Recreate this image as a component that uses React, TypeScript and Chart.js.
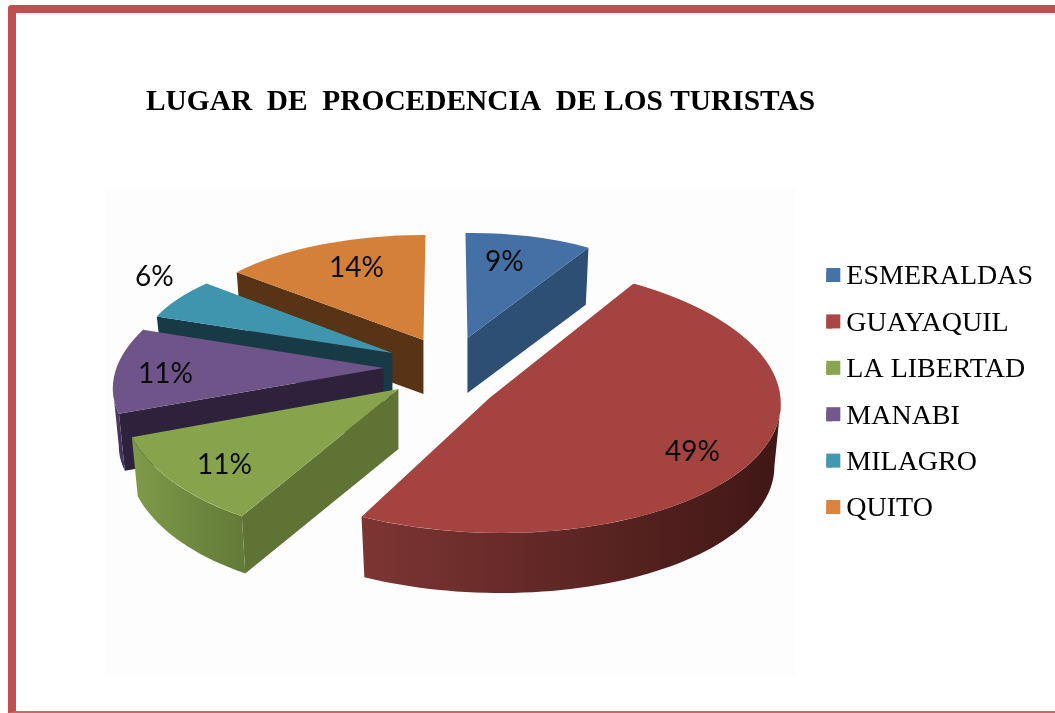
import React, { useEffect, useRef } from "react";
import { Chart, registerables } from "chart.js";

Chart.register(...registerables);

const TITLE = "LUGAR  DE  PROCEDENCIA  DE LOS TURISTAS";
const categories = ["ESMERALDAS", "GUAYAQUIL", "LA LIBERTAD", "MANABI", "MILAGRO", "QUITO"];
const percentages = [9, 49, 11, 11, 6, 14];

const faceColors = ["#4570a6", "#a54340", "#87a44d", "#6f548a", "#3f95ad", "#d58039"];
const legendColors = ["#4572a7", "#aa4643", "#89a54e", "#71588f", "#4198af", "#db843d"];
const cutColors = ["#2d4f74", "#3f1715", "#5f7434", "#2e213c", "#183a47", "#583316"];
const wallColors = [
  ["#2d4f74", "#2d4f74"],
  ["#7d3533", "#3f1715"],
  ["#7f9a49", "#637b38"],
  ["#5f4a7c", "#45335e"],
  ["#183a47", "#183a47"],
  ["#583316", "#583316"],
];

// 3-D view of each exploded wedge, in design units for a pie of radius 255.25:
// wedge tip relative to the pie centre, projected x/y axes of the wedge, extrusion depth.
const DESIGN_RADIUS = 255.25;
const TAPER = 0.978;
const sliceViews = [
  { tip: [-9.5, -108.25], xAxis: [229, -3], yAxis: [2, 105], depth: 55 },
  { tip: [12.5, -48.25], xAxis: [291, -1], yAxis: [14, 135], depth: 63 },
  { tip: [-78.5, -57.25], xAxis: [276, 7], yAxis: [-27, 149], depth: 60 },
  { tip: [-93.5, -78.25], xAxis: [267, 0], yAxis: [-44, 124], depth: 58 },
  { tip: [-84.5, -93.25], xAxis: [252, 5], yAxis: [-13, 103], depth: 45 },
  { tip: [-53.5, -106.25], xAxis: [244, 1], yAxis: [-2, 105], depth: 54 },
];
const labelOffsets = [[37, -76], [203, 54], [-174, 76], [-218, 6], [-238, -76], [-67, -72]];
const drawOrder = [0, 5, 4, 3, 2, 1];

const pie3d = {
  id: "pie3d",
  beforeDatasetDraw(chart: any) {
    const { ctx } = chart;
    const arcs = chart.getDatasetMeta(0).data;
    for (const i of drawOrder) {
      const arc = arcs[i];
      const { x: cx, y: cy, outerRadius: R, startAngle, endAngle } = arc.getProps(
        ["x", "y", "outerRadius", "startAngle", "endAngle"],
        true
      );
      const k = R / DESIGN_RADIUS;
      const v = sliceViews[i];
      const tx = cx + v.tip[0] * k;
      const ty = cy + v.tip[1] * k;
      const ax = v.xAxis[0] * k, ay = v.xAxis[1] * k;
      const bx = v.yAxis[0] * k, by = v.yAxis[1] * k;
      const d = v.depth * k;
      const pt = (t: number): [number, number] => [
        tx + ax * Math.cos(t) + bx * Math.sin(t),
        ty + ay * Math.cos(t) + by * Math.sin(t),
      ];
      const low = (p: [number, number]): [number, number] => [
        tx + (p[0] - tx) * TAPER,
        ty + (p[1] - ty) * TAPER + d,
      ];
      const cut = (t: number) => {
        const p = pt(t);
        const q = low(p);
        ctx.beginPath();
        ctx.moveTo(tx, ty);
        ctx.lineTo(p[0], p[1]);
        ctx.lineTo(q[0], q[1]);
        ctx.lineTo(tx, ty + d);
        ctx.closePath();
        ctx.fillStyle = cutColors[i];
        ctx.fill();
      };
      if (Math.cos(startAngle) < -1e-6) cut(startAngle);
      if (Math.cos(endAngle) > 1e-6) cut(endAngle);

      const t0 = Math.atan2(bx, ax);
      const from = Math.max(startAngle, t0);
      const to = Math.min(endAngle, t0 + Math.PI);
      if (to > from) {
        const steps = 60;
        const top: [number, number][] = [];
        for (let s = 0; s <= steps; s++) top.push(pt(from + ((to - from) * s) / steps));
        const xs = top.map((p) => p[0]);
        const g = ctx.createLinearGradient(Math.min(...xs), 0, Math.max(...xs), 0);
        g.addColorStop(0, wallColors[i][0]);
        g.addColorStop(1, wallColors[i][1]);
        ctx.beginPath();
        top.forEach((p, n) => (n ? ctx.lineTo(p[0], p[1]) : ctx.moveTo(p[0], p[1])));
        for (let n = steps; n >= 0; n--) {
          const q = low(top[n]);
          ctx.lineTo(q[0], q[1]);
        }
        ctx.closePath();
        ctx.fillStyle = g;
        ctx.fill();
      }

      ctx.save();
      ctx.transform(
        ax / R, ay / R, bx / R, by / R,
        tx - (ax * cx + bx * cy) / R,
        ty - (ay * cx + by * cy) / R
      );
      arc.draw(ctx);
      ctx.restore();
    }
    return false;
  },
  afterDatasetsDraw(chart: any) {
    const { ctx } = chart;
    const arcs = chart.getDatasetMeta(0).data;
    ctx.save();
    ctx.font = '28px Lato';
    ctx.fillStyle = "#0a0a0a";
    ctx.textAlign = "center";
    ctx.textBaseline = "middle";
    arcs.forEach((arc: any, i: number) => {
      const { x, y, outerRadius: R } = arc.getProps(["x", "y", "outerRadius"], true);
      const k = R / DESIGN_RADIUS;
      const v = sliceViews[i];
      ctx.fillText(
        percentages[i] + "%",
        x + (v.tip[0] + labelOffsets[i][0]) * k,
        y + (v.tip[1] + labelOffsets[i][1]) * k
      );
    });
    ctx.restore();
  },
  afterDraw(chart: any) {
    // Legend swatches are wider than the gap Chart.js leaves before the text.
    const { ctx, legend } = chart;
    legend.legendHitBoxes.forEach((hit: any, i: number) => {
      ctx.fillStyle = legendColors[i];
      ctx.fillRect(hit.left, hit.top + 5, 14, 14);
    });
  },
};

export default function App() {
  const ref = useRef<HTMLCanvasElement>(null);
  useEffect(() => {
    const chart = new Chart(ref.current as HTMLCanvasElement, {
      type: "doughnut",
      data: {
        labels: categories,
        datasets: [{ data: percentages, backgroundColor: faceColors, borderWidth: 0, hoverOffset: 0 }],
      },
      options: {
        responsive: false,
        animation: false,
        events: [],
        cutout: 0,
        layout: { padding: { left: 146, right: 12, top: 84.5, bottom: 11.5 } },
        plugins: {
          tooltip: { enabled: false },
          title: {
            display: true,
            text: TITLE,
            align: "start",
            color: "#000000",
            font: { family: "'Liberation Serif'", size: 29.4, weight: "bold", lineHeight: 1.2 },
            padding: { top: 0, bottom: 71.2 },
          },
          legend: {
            position: "right",
            labels: {
              boxWidth: 6,
              boxHeight: 10,
              padding: 18.4,
              color: "#111111",
              font: { family: "'Liberation Serif'", size: 28, lineHeight: 1 },
              generateLabels: () =>
                categories.map((text, i) => ({
                  text,
                  fillStyle: legendColors[i],
                  strokeStyle: legendColors[i],
                  lineWidth: 0,
                  index: i,
                })),
            },
          },
        },
      } as any,
      plugins: [pie3d],
    });
    return () => chart.destroy();
  }, []);
  return (
    <div style={{ position: "fixed", left: 0, top: 0, width: 1055, height: 713, overflow: "hidden", background: "#ffffff" }}>
      <div style={{ position: "absolute", left: 105, top: 188, width: 690, height: 487, background: "#fdfdfd" }} />
      <div
        style={{
          position: "absolute", left: 8, top: 5, width: 1047, height: 708, boxSizing: "border-box",
          borderTop: "8px solid #c0504d", borderLeft: "8px solid #c0504d", borderBottom: "2px solid #cf6562",
          borderTopLeftRadius: 4,
        }}
      />
      <canvas ref={ref} width={1055} height={713} style={{ position: "absolute", left: 0, top: 0 }} />
    </div>
  );
}
